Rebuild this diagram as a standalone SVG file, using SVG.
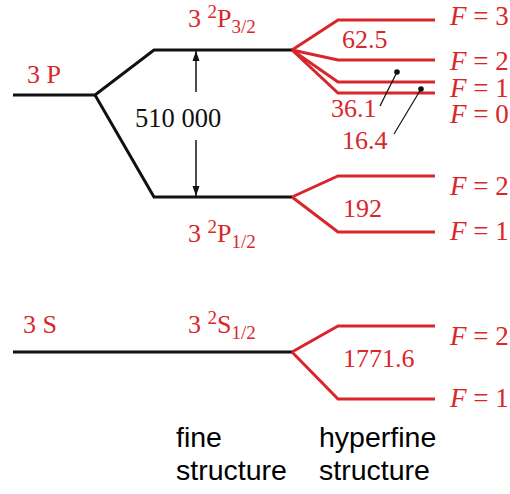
<svg xmlns="http://www.w3.org/2000/svg" width="510" height="494" viewBox="0 0 510 494">
<style>
.blk{fill:none;stroke:#111;stroke-width:3;stroke-linejoin:miter}
.red{fill:none;stroke:#d8262b;stroke-width:3;stroke-linejoin:miter}
.t{font-family:"Liberation Serif","Times New Roman",serif;font-size:26px;fill:#d8262b}
.f{font-size:27px}
.tb{font-family:"Liberation Serif","Times New Roman",serif;font-size:26.5px;fill:#111}
.sub{font-size:19px}
.it{font-style:italic}
.cap{font-family:"Liberation Sans",Arial,sans-serif;font-size:28.5px;fill:#000}
.lead{stroke:#111;stroke-width:1.2;fill:none}
</style>
<defs>
<marker id="ah" viewBox="0 0 10 10" refX="10" refY="5" markerWidth="10" markerHeight="10" markerUnits="userSpaceOnUse" orient="auto">
<path d="M0,1.5 L10,5 L0,8.5 Z" fill="#111"/>
</marker>
</defs>
<rect width="510" height="494" fill="#fff"/>
<g id="connectors">
<path class="blk" d="M13,95 H95 L154,50 H292"/>
<path class="blk" d="M95,95 L154,197 H292"/>
<path class="blk" d="M13,352 H292"/>
<path class="red" d="M292,50 L338,20 H435"/>
<path class="red" d="M292,50 L338,60 H435"/>
<path class="red" d="M292,50 L338,82 H435"/>
<path class="red" d="M292,50 L338,93 H435"/>
<path class="red" d="M292,197 L338,176 H435"/>
<path class="red" d="M292,197 L338,232 H435"/>
<path class="red" d="M292,352 L338,326 H435"/>
<path class="red" d="M292,352 L338,399 H435"/>
<line x1="196" y1="92" x2="196" y2="51" stroke="#111" stroke-width="1.5" marker-end="url(#ah)"/>
<line x1="196" y1="140" x2="196" y2="196" stroke="#111" stroke-width="1.5" marker-end="url(#ah)"/>
<line class="lead" x1="397" y1="72" x2="380" y2="106"/>
<line class="lead" x1="421" y1="89" x2="394" y2="134"/>
<circle cx="397" cy="72" r="2.8" fill="#111"/>
<circle cx="421" cy="89" r="2.8" fill="#111"/>
</g>
<g id="level-3P"><text class="t" x="27" y="83">3 P</text></g>
<g id="level-3P32"><text class="t" x="188" y="27">3 <tspan class="sub" dy="-9">2</tspan><tspan dy="9">P</tspan><tspan class="sub" dy="6">3/2</tspan></text></g>
<g id="level-3P12"><text class="t" x="188" y="242">3 <tspan class="sub" dy="-9">2</tspan><tspan dy="9">P</tspan><tspan class="sub" dy="6">1/2</tspan></text></g>
<g id="level-3S"><text class="t" x="23" y="333">3 S</text></g>
<g id="level-3S12"><text class="t" x="188" y="333">3 <tspan class="sub" dy="-9">2</tspan><tspan dy="9">S</tspan><tspan class="sub" dy="6">1/2</tspan></text></g>
<g id="fine-split"><text class="tb" x="135" y="127">510 000</text></g>
<g id="hf-P32">
<text class="t" x="342" y="48">62.5</text>
<text class="t" x="331" y="117">36.1</text>
<text class="t" x="342" y="149">16.4</text>
<text class="t f" x="450" y="25"><tspan class="it">F</tspan> = 3</text>
<text class="t f" x="450" y="70"><tspan class="it">F</tspan> = 2</text>
<text class="t f" x="450" y="97"><tspan class="it">F</tspan> = 1</text>
<text class="t f" x="450" y="123"><tspan class="it">F</tspan> = 0</text>
</g>
<g id="hf-P12">
<text class="t" x="343" y="217">192</text>
<text class="t f" x="450" y="195"><tspan class="it">F</tspan> = 2</text>
<text class="t f" x="450" y="240"><tspan class="it">F</tspan> = 1</text>
</g>
<g id="hf-S12">
<text class="t" x="343" y="367">1771.6</text>
<text class="t f" x="450" y="345"><tspan class="it">F</tspan> = 2</text>
<text class="t f" x="450" y="407"><tspan class="it">F</tspan> = 1</text>
</g>
<g id="captions">
<text class="cap" x="176" y="447">fine</text>
<text class="cap" x="176" y="480">structure</text>
<text class="cap" x="319" y="447">hyperfine</text>
<text class="cap" x="319" y="480">structure</text>
</g>
</svg>
